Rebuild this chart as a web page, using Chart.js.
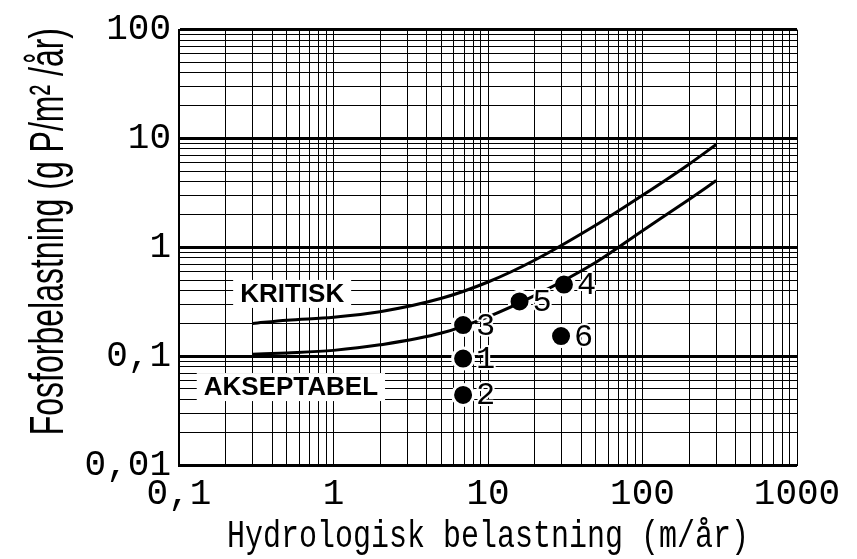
<!DOCTYPE html>
<html lang="no">
<head>
  <meta charset="UTF-8" />
  <title>Fosforbelastning og hydrologisk belastning</title>
  <script src="https://cdn.jsdelivr.net/npm/chart.js"></script>
  <style>
    body {
      margin: 0;
      background: #fff;
    }
    .chart-container {
      width: 857px;
      height: 559px;
      position: relative;
    }
  </style>
</head>
<body>

  <div class="chart-container"><canvas id="loadChart"></canvas></div>

  <script>
    // grensekurvene, lest av figuren
    const curveX = [0.3, 0.5, 1, 2, 5, 10, 20, 50, 100, 200, 300];
    const kritisk = [0.2, 0.214, 0.228, 0.256, 0.34, 0.48, 0.76, 1.6, 3.0, 5.8, 8.8];
    const akseptabel = [0.104, 0.107, 0.113, 0.127, 0.163, 0.23, 0.36, 0.73, 1.42, 2.75, 4.1];

    // innsjøene 1-6
    const lakeNames = ['1', '2', '3', '4', '5', '6'];
    const lakeX = [6.9, 6.9, 6.9, 31, 16, 29.7];
    const lakeY = [0.095, 0.044, 0.193, 0.455, 0.318, 0.153];

    // soneetiketter
    const zoneNames = ['KRITISK', 'AKSEPTABEL'];
    const zoneX = [0.54, 0.53];
    const zoneY = [0.373, 0.052];

    // akser
    const xDecades = [0.1, 1, 10, 100, 1000];
    const xDecadeLabels = ['0,1', '1', '10', '100', '1000'];
    const yDecades = [0.01, 0.1, 1, 10, 100];
    const yDecadeLabels = ['0,01', '0,1', '1', '10', '100'];
    const minorSteps = [2, 3, 4, 5, 6, 7, 8, 9];

    const yTitle = 'Fosforbelastning (g P/m² /år)';
    const xTitle = 'Hydrologisk belastning (m/år)';

    function logTicks(decades) {
      const ticks = [];
      decades.forEach((d, i) => {
        ticks.push({ value: d, major: true });
        if (i < decades.length - 1) {
          minorSteps.forEach(k => ticks.push({ value: d * k, major: false }));
        }
      });
      return ticks;
    }

    const overlay = {
      id: 'overlay',
      afterDatasetsDraw(chart) {
        const { ctx } = chart;
        const xs = chart.scales.x;
        const ys = chart.scales.y;
        ctx.save();

        ctx.font = 'bold 26px "Liberation Sans", Arial, sans-serif';
        ctx.textAlign = 'center';
        ctx.textBaseline = 'middle';
        zoneNames.forEach((name, i) => {
          const px = xs.getPixelForValue(zoneX[i]);
          const py = ys.getPixelForValue(zoneY[i]);
          const w = ctx.measureText(name).width + 14;
          ctx.fillStyle = '#fff';
          ctx.fillRect(px - w / 2, py - 14, w, 28);
          ctx.fillStyle = '#000';
          ctx.fillText(name, px, py + 1);
        });

        const meta = chart.getDatasetMeta(2);
        ctx.font = '32px "Liberation Mono", monospace';
        ctx.textAlign = 'left';
        ctx.lineJoin = 'round';
        ctx.lineWidth = 4;
        ctx.strokeStyle = '#fff';
        ctx.fillStyle = '#000';
        meta.data.forEach((pt, i) => {
          ctx.strokeText(lakeNames[i], pt.x + 13, pt.y + 1);
          ctx.fillText(lakeNames[i], pt.x + 13, pt.y + 1);
        });
        ctx.restore();
      },
      afterDraw(chart) {
        const { ctx, chartArea } = chart;
        ctx.save();
        ctx.fillStyle = '#000';
        ctx.textAlign = 'center';
        ctx.textBaseline = 'alphabetic';

        ctx.save();
        ctx.translate(63, chartArea.top + 202);
        ctx.rotate(-Math.PI / 2);
        ctx.scale(1, 1.5);
        ctx.font = '32px "Liberation Sans", Arial, sans-serif';
        ctx.fillText(yTitle, 0, 0);
        ctx.restore();

        ctx.save();
        ctx.translate((chartArea.left + chartArea.right) / 2, 547);
        ctx.scale(1, 1.29);
        ctx.font = '30px "Liberation Mono", monospace';
        ctx.fillText(xTitle, 0, 0);
        ctx.restore();

        ctx.restore();
      }
    };

    const tickFont = { family: '"Liberation Mono", monospace', size: 36 };

    new Chart(document.getElementById('loadChart'), {
      type: 'scatter',
      data: {
        datasets: [
          {
            label: 'Kritisk',
            data: curveX.map((v, i) => ({ x: v, y: kritisk[i] })),
            showLine: true,
            borderColor: '#000',
            borderWidth: 3,
            pointRadius: 0,
            cubicInterpolationMode: 'monotone'
          },
          {
            label: 'Akseptabel',
            data: curveX.map((v, i) => ({ x: v, y: akseptabel[i] })),
            showLine: true,
            borderColor: '#000',
            borderWidth: 3,
            pointRadius: 0,
            cubicInterpolationMode: 'monotone'
          },
          {
            label: 'Innsjøer',
            data: lakeX.map((v, i) => ({ x: v, y: lakeY[i] })),
            showLine: false,
            pointRadius: 10.5,
            pointBackgroundColor: '#000',
            pointBorderColor: '#fff',
            pointBorderWidth: 3
          }
        ]
      },
      options: {
        animation: false,
        responsive: true,
        maintainAspectRatio: false,
        layout: { padding: { left: 0, right: 60, top: 26, bottom: 0 } },
        plugins: {
          legend: { display: false },
          tooltip: { enabled: false }
        },
        scales: {
          x: {
            type: 'logarithmic',
            min: 0.1,
            max: 1000,
            afterBuildTicks: scale => { scale.ticks = logTicks(xDecades); },
            afterFit: scale => { scale.height = 94; },
            ticks: {
              autoSkip: false,
              maxRotation: 0,
              padding: 8,
              color: '#000',
              font: tickFont,
              callback: function (value, index, ticks) {
                return ticks[index].major ? xDecadeLabels[xDecades.indexOf(value)] : '';
              }
            },
            grid: { color: '#000', lineWidth: 1, drawTicks: false },
            border: { color: '#000', width: 2 }
          },
          y: {
            type: 'logarithmic',
            min: 0.01,
            max: 100,
            afterBuildTicks: scale => { scale.ticks = logTicks(yDecades); },
            afterFit: scale => { scale.width = 179; },
            ticks: {
              autoSkip: false,
              padding: 8,
              color: '#000',
              font: tickFont,
              callback: function (value, index, ticks) {
                return ticks[index].major ? yDecadeLabels[yDecades.indexOf(value)] : '';
              }
            },
            grid: {
              color: '#000',
              lineWidth: ctx => (ctx.tick && ctx.tick.major ? 3 : 1),
              drawTicks: false
            },
            border: { color: '#000', width: 2 }
          }
        }
      },
      plugins: [overlay]
    });
  </script>

</body>
</html>
